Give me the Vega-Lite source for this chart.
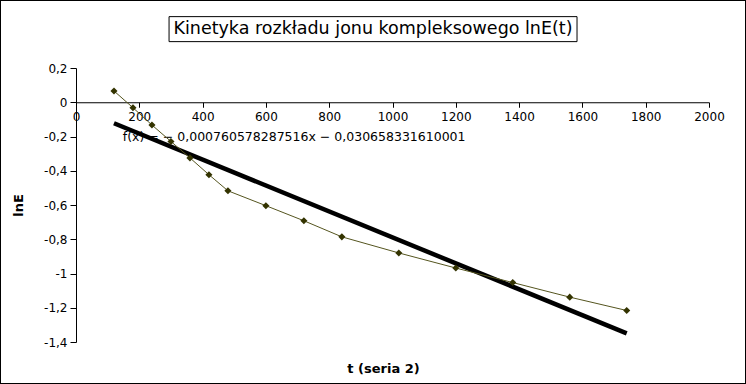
{
  "$schema": "https://vega.github.io/schema/vega-lite/v6.json",
  "width": 746,
  "height": 384,
  "autosize": {"type": "none"},
  "padding": 0,
  "background": "white",
  "title": {
    "text": "Kinetyka rozkładu jonu kompleksowego lnE(t)",
    "font": "DejaVu Sans",
    "fontSize": 17.5,
    "fontWeight": "normal",
    "color": "black",
    "offset": -46,
    "baseline": "middle",
    "anchor": "middle",
    "frame": "group"
  },
  "config": {
    "view": {"stroke": "black", "strokeWidth": 2},
    "font": "DejaVu Sans",
    "locale": {
      "number": {"decimal": ",", "thousands": ".", "grouping": [3], "currency": ["", ""], "minus": "-"}
    }
  },
  "datasets": {
    "pomiary": [
      {"t": 120, "lnE": 0.066},
      {"t": 180, "lnE": -0.032},
      {"t": 240, "lnE": -0.133},
      {"t": 300, "lnE": -0.229},
      {"t": 360, "lnE": -0.325},
      {"t": 420, "lnE": -0.423},
      {"t": 480, "lnE": -0.517},
      {"t": 600, "lnE": -0.604},
      {"t": 720, "lnE": -0.692},
      {"t": 840, "lnE": -0.786},
      {"t": 1020, "lnE": -0.880},
      {"t": 1200, "lnE": -0.968},
      {"t": 1380, "lnE": -1.053},
      {"t": 1560, "lnE": -1.138},
      {"t": 1740, "lnE": -1.216}
    ],
    "ramka": [{"x1": 294, "x2": 1583, "y1": 0.5, "y2": 0.354}],
    "rownanie": [{"t": 148, "lnE": -0.2, "label": "f(x) = − 0,000760578287516x − 0,030658331610001"}]
  },
  "layer": [
    {
      "data": {"name": "rownanie"},
      "mark": {"type": "text", "align": "left", "baseline": "middle", "font": "DejaVu Sans", "fontSize": 12.5, "color": "black", "clip": false},
      "encoding": {
        "x": {
          "field": "t",
          "type": "quantitative",
          "scale": {"domain": [0, 2000], "range": [76, 709], "nice": false, "zero": false},
          "axis": {
            "values": [0, 200, 400, 600, 800, 1000, 1200, 1400, 1600, 1800, 2000],
            "format": "d",
            "offset": -281.75,
            "grid": false,
            "tickSize": 5,
            "labelPadding": 4,
            "labelFlush": false,
            "labelOverlap": false,
            "domainColor": "black",
            "tickColor": "black",
            "labelColor": "black",
            "labelFont": "DejaVu Sans",
            "labelFontSize": 12,
            "title": "t (seria 2)",
            "titleFont": "DejaVu Sans",
            "titleFontSize": 13,
            "titleFontWeight": "bold",
            "titleColor": "black",
            "titleX": 383,
            "titleY": 266,
            "titleBaseline": "middle"
          }
        },
        "y": {
          "field": "lnE",
          "type": "quantitative",
          "scale": {"domain": [-1.4, 0.2], "range": [342, 68], "nice": false, "zero": false},
          "axis": {
            "values": [-1.4, -1.2, -1, -0.8, -0.6, -0.4, -0.2, 0, 0.2],
            "format": ".1~f",
            "offset": -76,
            "grid": false,
            "tickSize": 6,
            "labelPadding": 3,
            "labelFlush": false,
            "labelOverlap": false,
            "domainColor": "black",
            "tickColor": "black",
            "labelColor": "black",
            "labelFont": "DejaVu Sans",
            "labelFontSize": 12,
            "title": "lnE",
            "titleFont": "DejaVu Sans",
            "titleFontSize": 13,
            "titleFontWeight": "bold",
            "titleColor": "black",
            "titleAngle": -90,
            "titleX": -58,
            "titleY": 205,
            "titleAlign": "center",
            "titleBaseline": "middle"
          }
        },
        "text": {"field": "label"}
      }
    },
    {
      "data": {"name": "pomiary"},
      "transform": [{"regression": "lnE", "on": "t", "method": "linear"}],
      "mark": {"type": "line", "color": "black", "strokeWidth": 4.5},
      "encoding": {
        "x": {"field": "t", "type": "quantitative"},
        "y": {"field": "lnE", "type": "quantitative"}
      }
    },
    {
      "data": {"name": "pomiary"},
      "mark": {"type": "line", "color": "#55551f", "strokeWidth": 1},
      "encoding": {
        "x": {"field": "t", "type": "quantitative"},
        "y": {"field": "lnE", "type": "quantitative"}
      }
    },
    {
      "data": {"name": "pomiary"},
      "mark": {"type": "point", "shape": "diamond", "filled": true, "color": "#333300", "size": 50, "opacity": 1},
      "encoding": {
        "x": {"field": "t", "type": "quantitative"},
        "y": {"field": "lnE", "type": "quantitative"}
      }
    },
    {
      "data": {"name": "ramka"},
      "mark": {"type": "rect", "fill": "transparent", "stroke": "black", "strokeWidth": 1, "clip": false},
      "encoding": {
        "x": {"field": "x1", "type": "quantitative"},
        "x2": {"field": "x2"},
        "y": {"field": "y1", "type": "quantitative"},
        "y2": {"field": "y2"}
      }
    }
  ]
}
